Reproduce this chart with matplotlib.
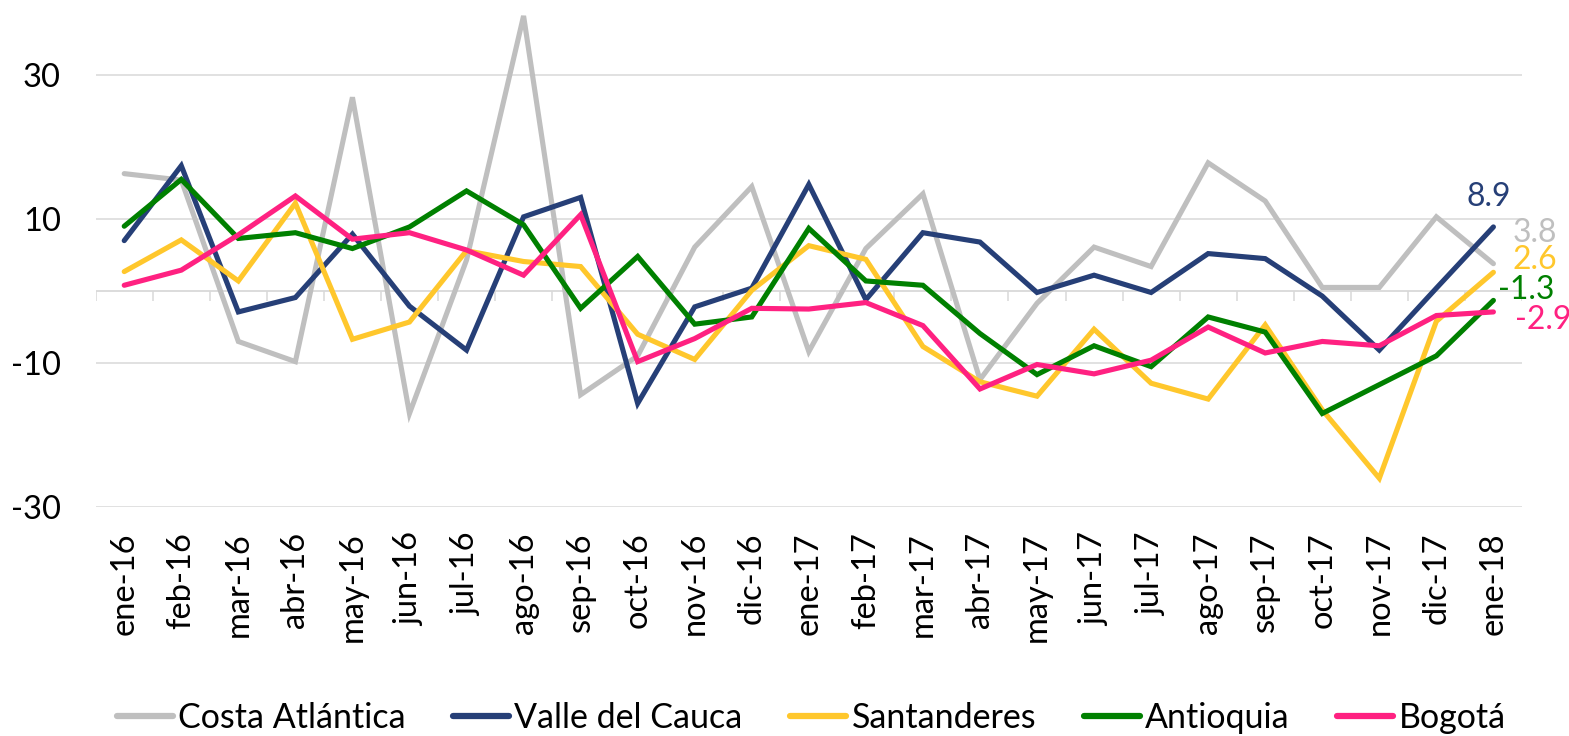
#%%
# Variación anual por región (ene-16 a ene-18)
import numpy as np
import matplotlib.pyplot as plt

plt.rcParams['font.family'] = ['Lato', 'DejaVu Sans']
plt.rcParams['axes.unicode_minus'] = False

# datos
meses = ['ene-16', 'feb-16', 'mar-16', 'abr-16', 'may-16', 'jun-16', 'jul-16', 'ago-16',
         'sep-16', 'oct-16', 'nov-16', 'dic-16', 'ene-17', 'feb-17', 'mar-17', 'abr-17',
         'may-17', 'jun-17', 'jul-17', 'ago-17', 'sep-17', 'oct-17', 'nov-17', 'dic-17', 'ene-18']

costa = [16.3, 15.4, -7.0, -9.8, 26.9, -17.0, 4.3, 38.2, -14.4, -9.0, 6.1, 14.5, -8.4,
         5.9, 13.5, -12.3, -1.7, 6.1, 3.4, 17.8, 12.5, 0.5, 0.5, 10.3, 3.8]
valle = [7.0, 17.4, -2.9, -0.9, 7.9, -2.1, -8.2, 10.3, 13.0, -15.6, -2.2, 0.4, 14.8,
         -1.2, 8.1, 6.8, -0.2, 2.2, -0.2, 5.2, 4.5, -0.7, -8.2, 0.4, 8.9]
santanderes = [2.7, 7.1, 1.4, 12.2, -6.7, -4.3, 5.6, 4.1, 3.4, -6.0, -9.5, 0.1, 6.3,
               4.4, -7.7, -12.6, -14.6, -5.3, -12.8, -15.0, -4.7, -16.5, -26.0, -4.2, 2.6]
antioquia = [9.0, 15.5, 7.3, 8.1, 5.9, 8.9, 13.9, 9.2, -2.4, 4.8, -4.6, -3.6, 8.7,
             1.4, 0.8, -5.9, -11.6, -7.6, -10.5, -3.6, -5.7, -17.0, -13.0, -9.0, -1.3]
bogota = [0.8, 2.9, 7.8, 13.2, 7.2, 8.1, 5.7, 2.2, 10.6, -9.8, -6.6, -2.4, -2.5,
          -1.6, -4.8, -13.6, -10.2, -11.5, -9.6, -5.0, -8.6, -7.0, -7.6, -3.4, -2.9]

series = [('Costa Atlántica', costa, '#BFBFBF'),
          ('Valle del Cauca', valle, '#263F77'),
          ('Santanderes', santanderes, '#FFC72C'),
          ('Antioquia', antioquia, '#008000'),
          ('Bogotá', bogota, '#FF2181')]

# desplazamiento (px) de la etiqueta del último valor
label_offsets = {'Costa Atlántica': (19, 31, 'left'),
                 'Valle del Cauca': (-5, 30, 'center'),
                 'Santanderes': (19, 12, 'left'),
                 'Antioquia': (5, 10, 'left'),
                 'Bogotá': (22, -8, 'left')}

fig = plt.figure(figsize=(15.69, 7.36), dpi=100)
ax = fig.add_axes([0.061, 0.311, 0.909, 0.685])

x = np.arange(len(meses))
for name, vals, color in series:
    ax.plot(x, vals, color=color, lw=3.7, label=name, solid_capstyle='round',
            solid_joinstyle='miter', zorder=3)
    dx, dy, ha = label_offsets[name]
    ax.annotate(f'{vals[-1]:.1f}', xy=(x[-1], vals[-1]), xytext=(dx, dy),
                textcoords='offset pixels', ha=ha, va='center', color=color,
                fontsize=23, zorder=4)

# ejes
ax.set_xlim(-0.5, len(meses) - 0.5)
ax.set_ylim(-30, 40)
ax.set_yticks([-30, -10, 10, 30])
ax.grid(axis='y', color='#D9D9D9', lw=1.1)
ax.set_axisbelow(True)
ax.axhline(0, color='#D9D9D9', lw=1.3, zorder=1)
ax.vlines(np.arange(-0.5, len(meses)), -1.4, 0, color='#D9D9D9', lw=1.1, zorder=1)

ax.set_xticks(x)
ax.set_xticklabels(meses, rotation=90, fontsize=23.5)
ax.tick_params(axis='x', length=0, pad=18)
ax.tick_params(axis='y', length=0, pad=25, labelsize=23.5)
for s in ax.spines.values():
    s.set_visible(False)

leg = fig.legend(loc='center', bbox_to_anchor=(0.517, 0.0245), ncol=5, frameon=False,
                 fontsize=24.5, handlelength=1.65, handletextpad=0.15, columnspacing=1.4)
for h in leg.get_lines():
    h.set_linewidth(4.5)

plt.savefig('out.png', dpi=100)
# %%
